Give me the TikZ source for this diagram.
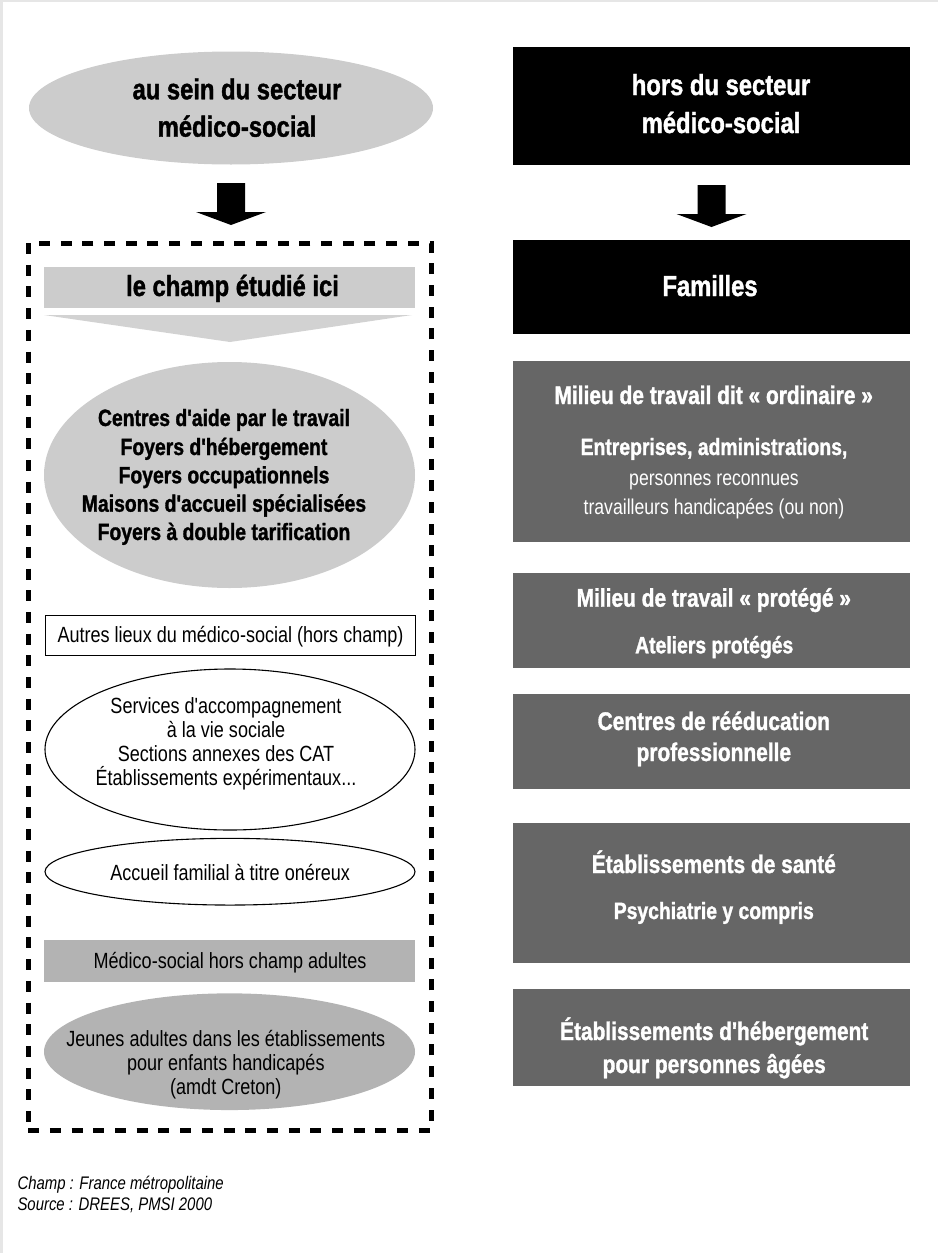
\documentclass[tikz,border=0pt]{standalone}
\usepackage{fontspec}
\setmainfont{Liberation Sans}[FakeStretch=0.82, Ligatures=TeXOff, BoldFeatures={FakeBold=1.3}]
\usetikzlibrary{shapes.geometric}

\definecolor{paleg}{HTML}{CCCCCC}
\definecolor{trig}{HTML}{D2D2D2}
\definecolor{midg}{HTML}{B3B3B3}
\definecolor{darkg}{HTML}{666666}
\definecolor{frameg}{HTML}{E6E6E6}

\newcommand\ftitle{\fontsize{29}{32}\selectfont\bfseries}
\newcommand\fhead{\fontsize{25.5}{28}\selectfont\bfseries}
\newcommand\fsub{\fontsize{23.6}{26}\selectfont\bfseries}
\newcommand\freg{\fontsize{22}{25}\selectfont}
\newcommand\fright{\fontsize{21.5}{24}\selectfont}
\newcommand\fnote{\fontsize{18.2}{21}\selectfont\itshape}

\begin{document}
\begin{tikzpicture}[x=1pt, y=-1pt,
  tl/.style={anchor=base, inner sep=0pt},
  oval/.style={ellipse, inner sep=0pt},
  panel/.style={rectangle, inner sep=0pt, minimum width=397, fill=darkg},
  blackpanel/.style={rectangle, inner sep=0pt, minimum width=397, fill=black},
  wtext/.style={tl, text=white},
  blockarrow/.pic={\fill[black] (-14,0) -- (14,0) -- (14,29) -- (35,29)
      -- (0,42) -- (-35,29) -- (-14,29) -- cycle;}
]
\useasboundingbox (0,0) rectangle (938,1253);
% thin grey page edge, top and left
\fill[frameg] (0,0) rectangle (938,2);
\fill[frameg] (0,0) rectangle (3,1253);

% ---------- left column ----------
\node[oval, fill=paleg, minimum width=404, minimum height=113] (sein) at (231,108) {};
\node[tl, font=\ftitle] (sein1) at (237,99.3) {au sein du secteur};
\node[tl, font=\ftitle] (sein2) at (237,136.7) {médico-social};

\pic at (231,183) {blockarrow};

% dashed frame of the studied field
\node[rectangle, draw=black, line width=5pt, dash pattern=on 11pt off 10.7pt,
      inner sep=0pt, minimum width=402.8, minimum height=887] (champ) at (229.6,686.5) {};

\node[rectangle, fill=paleg, inner sep=0pt, minimum width=371, minimum height=41] (etud) at (229.5,287.5) {};
\node[tl, font=\ftitle] (etudt) at (232.5,296) {le champ étudié ici};
\fill[trig] (44,315) -- (412,315) -- (230,342) -- cycle;

\node[oval, fill=paleg, minimum width=371, minimum height=226] (cat) at (229.5,475) {};
\node[tl, font=\fsub] (cat1) at (224,426) {Centres d'aide par le travail};
\node[tl, font=\fsub] (cat2) at (224,455) {Foyers d'hébergement};
\node[tl, font=\fsub] (cat3) at (224,483.3) {Foyers occupationnels};
\node[tl, font=\fsub] (cat4) at (224,511.7) {Maisons d'accueil spécialisées};
\node[tl, font=\fsub] (cat5) at (224,540) {Foyers à double tarification};

\node[rectangle, draw=black, line width=1pt, inner sep=0pt, minimum width=370, minimum height=40] (autres) at (230,635) {};
\node[tl, font=\freg] (autrest) at (230.5,642.7) {Autres lieux du médico-social (hors champ)};

\node[oval, draw=black, line width=1.1pt, minimum width=370, minimum height=161] (serv) at (230,749.5) {};
\node[tl, font=\freg] (serv1) at (226,713.3) {Services d'accompagnement};
\node[tl, font=\freg] (serv2) at (226,737.3) {à la vie sociale};
\node[tl, font=\freg] (serv3) at (226,761.7) {Sections annexes des CAT};
\node[tl, font=\freg] (serv4) at (226,785.7) {Établissements expérimentaux...};

\node[oval, draw=black, line width=1.1pt, minimum width=370, minimum height=66.7] (fam) at (230,871.7) {};
\node[tl, font=\freg] (famt) at (230.2,880) {Accueil familial à titre onéreux};

\node[rectangle, fill=midg, inner sep=0pt, minimum width=371, minimum height=41.7] (hors) at (229.5,960.8) {};
\node[tl, font=\freg] (horst) at (230,968.3) {Médico-social hors champ adultes};

\node[oval, fill=midg, minimum width=371, minimum height=116.7] (jeunes) at (229.5,1051.7) {};
\node[tl, font=\freg] (jeunes1) at (225.8,1046.7) {Jeunes adultes dans les établissements};
\node[tl, font=\freg] (jeunes2) at (225.8,1070.7) {pour enfants handicapés};
\node[tl, font=\freg] (jeunes3) at (225.8,1094) {(amdt Creton)};

% ---------- right column ----------
\node[blackpanel, minimum height=118] (ext) at (711.5,106) {};
\node[wtext, font=\ftitle] (ext1) at (721,95) {hors du secteur};
\node[wtext, font=\ftitle] (ext2) at (721,133) {médico-social};

\pic at (711.5,185) {blockarrow};

\node[blackpanel, minimum height=94] (familles) at (711.5,287) {};
\node[wtext, font=\ftitle] (famillest) at (710,296) {Familles};

\node[panel, minimum height=181.3] (ord) at (711.5,451.3) {};
\node[wtext, font=\fhead] (ord1) at (713.7,404) {Milieu de travail dit « ordinaire »};
\node[wtext, font=\fsub] (ord2) at (714,455) {Entreprises, administrations,};
\node[wtext, font=\fright] (ord3) at (714,485.7) {personnes reconnues};
\node[wtext, font=\fright] (ord4) at (714,514) {travailleurs handicapées (ou non)};

\node[panel, minimum height=95] (prot) at (711.5,620.2) {};
\node[wtext, font=\fhead] (prot1) at (713.8,606.7) {Milieu de travail « protégé »};
\node[wtext, font=\fsub] (prot2) at (714.2,653.3) {Ateliers protégés};

\node[panel, minimum height=94.7] (reed) at (711.5,741.3) {};
\node[wtext, font=\fhead] (reed1) at (713.8,730) {Centres de rééducation};
\node[wtext, font=\fhead] (reed2) at (713.8,761) {professionnelle};

\node[panel, minimum height=139.7] (sante) at (711.5,892.8) {};
\node[wtext, font=\fhead] (sante1) at (713.8,873) {Établissements de santé};
\node[wtext, font=\fsub] (sante2) at (713.8,919) {Psychiatrie y compris};

\node[panel, minimum height=97] (ehpa) at (711.5,1037.5) {};
\node[wtext, font=\fhead] (ehpa1) at (714.2,1040) {Établissements d'hébergement};
\node[wtext, font=\fhead] (ehpa2) at (714.2,1073) {pour personnes âgées};

% ---------- notes ----------
\node[anchor=base west, inner sep=0pt, font=\fnote] (note1) at (17.3,1189.3) {Champ : France métropolitaine};
\node[anchor=base west, inner sep=0pt, font=\fnote] (note2) at (17.3,1210.7) {Source : DREES, PMSI 2000};
\end{tikzpicture}
\end{document}
